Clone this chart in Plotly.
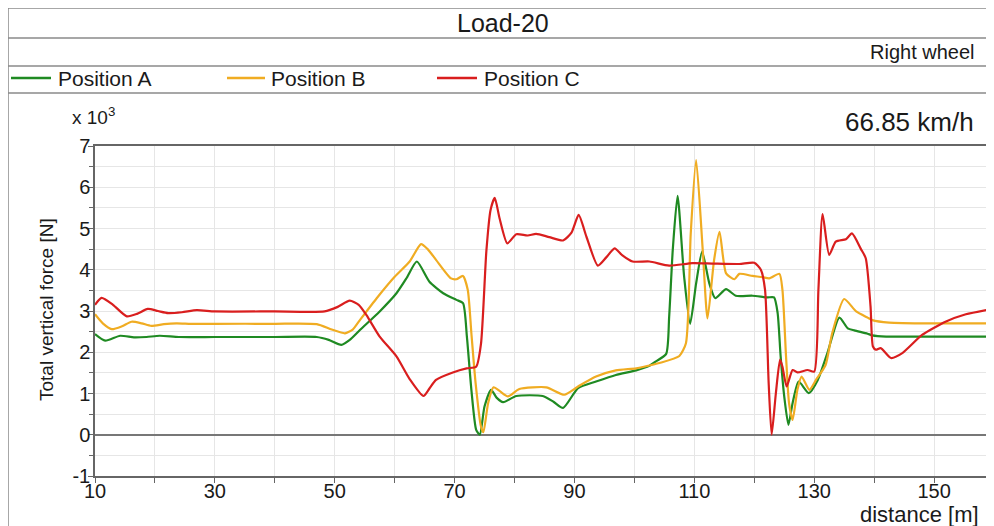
import plotly.graph_objects as go

# ---------------- data (force in units of 10^3 N) ----------------
dist_A = [10, 11.7, 14.2, 16.5, 18.6, 20.8, 24, 30, 40, 47,
          49, 51.1, 52.5, 54.2, 57.5, 60.3, 62, 63.7, 65.8, 68.1,
          70.3, 71.4, 72.05, 72.8, 73.6, 74.2, 75, 76.1, 77, 78.1,
          80.3, 84.7, 86.5, 88.1, 90.6, 93.6, 96.9, 100.3, 102.5, 103.6,
          105.3, 105.8, 106.4, 107.2, 108.3, 109.3, 110.3, 111.3, 112.5, 113.5,
          115.3, 116.9, 119.7, 122.2, 123.3, 123.9, 124.4, 125, 125.7, 126.4,
          127.4, 129.1, 130.6, 132.2, 134.2, 135.6, 136.7, 138.9, 139.7, 142,
          150, 160]
force_A = [2.44, 2.28, 2.40, 2.36, 2.37, 2.40, 2.37, 2.37, 2.37, 2.37,
           2.30, 2.18, 2.30, 2.54, 2.99, 3.43, 3.80, 4.20, 3.71, 3.43,
           3.27, 3.19, 2.38, 1.09, 0.12, 0.00, 0.69, 1.09, 0.90, 0.79,
           0.94, 0.94, 0.80, 0.65, 1.13, 1.29, 1.45, 1.56, 1.67, 1.78,
           1.96, 2.86, 4.48, 5.79, 3.83, 2.69, 3.67, 4.44, 3.67, 3.31,
           3.53, 3.37, 3.37, 3.33, 3.33, 2.95, 1.90, 0.93, 0.24, 0.77,
           1.29, 1.01, 1.33, 1.98, 2.84, 2.58, 2.53, 2.45, 2.41, 2.38,
           2.38, 2.38]

dist_B = [10, 11.3, 12.8, 14.5, 16.1, 17.8, 19.4, 21.5, 23.6, 26,
          30, 40, 47, 49.5, 51.7, 53, 54.2, 57, 60, 62.5,
          64.4, 65.5, 66.9, 69.4, 70.3, 71.4, 72.2, 72.8, 73.5, 74.4,
          74.8, 75.6, 76.5, 77.6, 78.9, 80.8, 85.3, 88.3, 90.6, 93.6,
          96.9, 100.3, 102.5, 104.2, 107.5, 108.6, 109.4, 110.3, 111.4, 112.2,
          113.3, 114.2, 115.3, 116.7, 117.5, 119.7, 121.4, 122.5, 124.2, 124.7,
          125.3, 125.8, 126.4, 127.2, 127.9, 129.2, 130.3, 131.9, 133, 135,
          137, 138.9, 139.7, 142.5, 150, 160]
force_B = [2.92, 2.70, 2.56, 2.63, 2.74, 2.70, 2.64, 2.68, 2.70, 2.69,
           2.69, 2.69, 2.68, 2.55, 2.46, 2.55, 2.78, 3.31, 3.83, 4.20,
           4.62, 4.50, 4.24, 3.79, 3.77, 3.85, 3.51, 2.46, 1.26, 0.20,
           0.06, 0.77, 1.15, 1.05, 0.93, 1.11, 1.15, 0.97, 1.17, 1.41,
           1.56, 1.61, 1.68, 1.74, 1.91, 2.22, 4.88, 6.66, 4.48, 2.82,
           4.24, 4.92, 3.91, 3.77, 3.90, 3.85, 3.82, 3.79, 3.90, 3.51,
           1.90, 0.77, 0.36, 1.09, 1.41, 1.09, 1.33, 1.69, 2.46, 3.29,
           2.99, 2.84, 2.78, 2.72, 2.70, 2.70]

dist_C = [10, 11.1, 13, 15.3, 17, 18.8, 20.5, 22.2, 24.5, 27,
          30, 40, 48.3, 50.5, 52.5, 54, 55.3, 57.5, 60.3, 62.5,
          64.8, 65.8, 66.9, 69.7, 72, 73.6, 74.4, 75.3, 76.0, 76.7,
          77.5, 78.8, 80.3, 82.2, 83.6, 85.8, 88.1, 89.5, 90.7, 92,
          93.9, 95.3, 96.7, 98, 99.7, 102.5, 105.8, 109.7, 113, 117.5,
          120, 121.1, 121.8, 122.4, 122.9, 123.6, 124.3, 124.7, 125.4, 126.4,
          127.2, 128.9, 130, 130.7, 131.4, 132.5, 133.6, 135.3, 136.3, 137.8,
          138.6, 139.4, 139.8, 140.3, 141.1, 142.8, 144.7, 148, 151.9, 155.3,
          158.9]
force_C = [3.15, 3.32, 3.15, 2.87, 2.93, 3.05, 3.00, 2.95, 2.97, 3.02,
           2.99, 2.99, 2.99, 3.10, 3.25, 3.15, 2.90, 2.38, 1.90, 1.35,
           0.94, 1.12, 1.33, 1.51, 1.61, 1.65, 2.20, 4.45, 5.45, 5.74,
           5.25, 4.64, 4.86, 4.83, 4.87, 4.79, 4.71, 4.90, 5.33, 4.80,
           4.10, 4.30, 4.52, 4.35, 4.20, 4.20, 4.10, 4.16, 4.15, 4.14,
           4.17, 4.00, 3.51, 1.26, 0.00, 1.00, 1.82, 1.65, 1.17, 1.57,
           1.51, 1.57, 1.53, 3.51, 5.35, 4.36, 4.68, 4.74, 4.88, 4.50,
           4.28, 3.11, 2.14, 2.06, 2.10, 1.86, 1.98, 2.42, 2.74, 2.92,
           3.03]

series_names = ["Position A", "Position B", "Position C"]
series_colors = ["#1f8a22", "#f0ac22", "#d91e1e"]
x_ticks = [10, 30, 50, 70, 90, 110, 130, 150]
y_ticks = [-1, 0, 1, 2, 3, 4, 5, 6, 7]

# ---------------- figure ----------------
# the page has an 8px body margin, so the figure is shifted by OFF
OFF = 8
PAGE_W, PAGE_H = 994, 526
W, H = PAGE_W - OFF, PAGE_H - OFF
ML, MR, MT, MB = 95 - OFF, 0, 146 - OFF, PAGE_H - 476
PW, PH = W - ML - MR, H - MT - MB


def px_x(p):  # page pixel -> paper x
    return (p - OFF - ML) / PW


def px_y(p):  # page pixel -> paper y
    return (H - MB - (p - OFF)) / PH


FONT = "Liberation Sans, Arial, sans-serif"
TXT = "#1a1a1a"
fig = go.Figure()
for name, col, xs, ys in zip(series_names, series_colors,
                             [dist_A, dist_B, dist_C],
                             [force_A, force_B, force_C]):
    fig.add_trace(go.Scatter(x=xs, y=ys, mode="lines", name=name,
                             line=dict(color=col, width=2.2, shape="spline", smoothing=0.6),
                             showlegend=False))

shapes = []
frame = dict(type="line", xref="paper", yref="paper",
             line=dict(color="#8a8a8a", width=1.5), layer="above")
for yy in [8, 38, 66, 93]:
    shapes.append(dict(frame, x0=px_x(OFF), x1=px_x(PAGE_W + 2), y0=px_y(yy), y1=px_y(yy)))
shapes.append(dict(frame, x0=px_x(OFF), x1=px_x(OFF), y0=px_y(8), y1=px_y(PAGE_H + 2)))

# legend row
leg_line_x = [(11, 51), (227, 265), (437, 477)]
leg_text_x = [56, 269, 482]
leg_y = 78
annotations = []
for (a, b), tx, name, col in zip(leg_line_x, leg_text_x, series_names, series_colors):
    shapes.append(dict(type="line", xref="paper", yref="paper",
                       x0=px_x(a), x1=px_x(b), y0=px_y(leg_y), y1=px_y(leg_y),
                       line=dict(color=col, width=2.5)))
    annotations.append(dict(text=name, x=px_x(tx), y=px_y(leg_y),
                            xanchor="left", yanchor="middle",
                            font=dict(size=21, color=TXT, family=FONT)))

annotations += [
    dict(text="Load-20", x=px_x(503), y=px_y(23), xanchor="center", yanchor="middle",
         font=dict(size=25, color=TXT, family=FONT)),
    dict(text="Right wheel", x=px_x(977), y=px_y(52), xanchor="right", yanchor="middle",
         font=dict(size=20, color=TXT, family=FONT)),
    dict(text="66.85 km/h", x=px_x(976), y=px_y(122), xanchor="right", yanchor="middle",
         font=dict(size=26, color=TXT, family=FONT)),
    dict(text="x 10<sup>3</sup>", x=px_x(70), y=px_y(116), xanchor="left", yanchor="middle",
         font=dict(size=19, color=TXT, family=FONT)),
    dict(text="distance [m]", x=px_x(981), y=px_y(514), xanchor="right", yanchor="middle",
         font=dict(size=22, color=TXT, family=FONT)),
    dict(text="Total vertical force [N]", x=px_x(46), y=px_y(310), xanchor="center",
         yanchor="middle", textangle=-90,
         font=dict(size=19, color=TXT, family=FONT)),
]
for a in annotations:
    a.setdefault("xref", "paper")
    a.setdefault("yref", "paper")
    a.setdefault("showarrow", False)

fig.update_layout(
    width=W, height=H,
    margin=dict(l=ML, r=MR, t=MT, b=MB, pad=0),
    paper_bgcolor="white", plot_bgcolor="white",
    font=dict(family=FONT, size=19, color=TXT),
    shapes=shapes, annotations=annotations,
    showlegend=False,
    xaxis=dict(range=[10, 160], tickvals=x_ticks, ticktext=[str(v) for v in x_ticks],
               showgrid=True, gridcolor="#e6e6e6", gridwidth=1,
               showline=True, linecolor="#666", linewidth=1.5, mirror=True,
               ticks="outside", ticklen=5, tickcolor="#666", tickwidth=1,
               ticklabelstandoff=-9,
               tickfont=dict(size=20, color=TXT),
               minor=dict(dtick=10, tick0=10, showgrid=True, gridcolor="#e6e6e6",
                          ticks="outside", ticklen=5, tickcolor="#666"),
               zeroline=False, fixedrange=True),
    yaxis=dict(range=[-1, 7], tickvals=y_ticks, ticktext=[str(v) for v in y_ticks],
               showgrid=True, gridcolor="#e6e6e6", gridwidth=1,
               showline=True, linecolor="#666", linewidth=1.5, mirror=False,
               ticks="outside", ticklen=5, tickcolor="#666", tickwidth=1,
               ticklabelstandoff=-6,
               tickfont=dict(size=20, color=TXT),
               minor=dict(dtick=0.5, tick0=0, showgrid=True, gridcolor="#e6e6e6",
                          ticks="outside", ticklen=4, tickcolor="#666"),
               zeroline=True, zerolinecolor="#777", zerolinewidth=1.5,
               fixedrange=True),
)

fig.write_html("out.html", config=dict(displayModeBar=False))
